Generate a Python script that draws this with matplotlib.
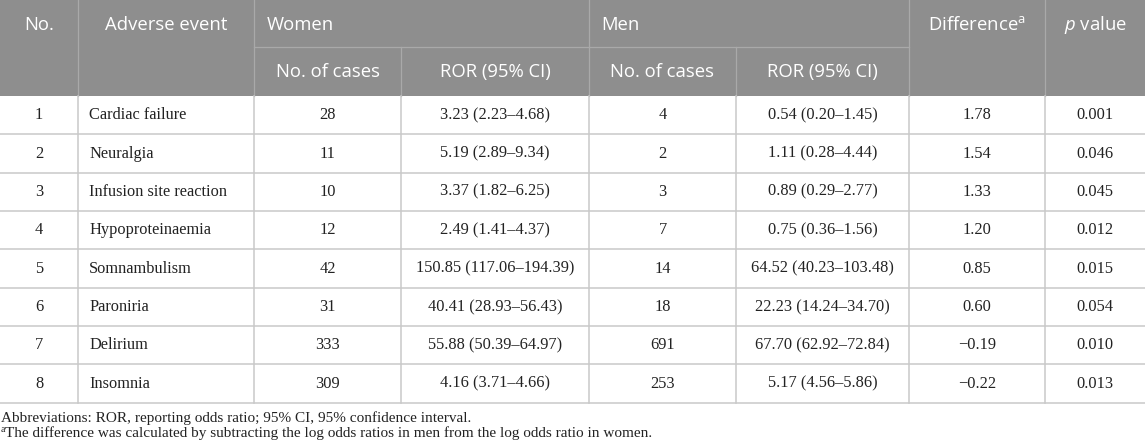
import matplotlib.pyplot as plt
from matplotlib.patches import Rectangle

plt.rcParams['mathtext.fontset'] = 'custom'
plt.rcParams['mathtext.rm'] = 'Open Sans'
plt.rcParams['mathtext.it'] = 'Open Sans:italic'

# Table data
numbers = ['1', '2', '3', '4', '5', '6', '7', '8']
events = ['Cardiac failure', 'Neuralgia', 'Infusion site reaction', 'Hypoproteinaemia',
          'Somnambulism', 'Paroniria', 'Delirium', 'Insomnia']
women_cases = ['28', '11', '10', '12', '42', '31', '333', '309']
women_ror = ['3.23 (2.23–4.68)', '5.19 (2.89–9.34)', '3.37 (1.82–6.25)', '2.49 (1.41–4.37)',
             '150.85 (117.06–194.39)', '40.41 (28.93–56.43)', '55.88 (50.39–64.97)',
             '4.16 (3.71–4.66)']
men_cases = ['4', '2', '3', '7', '14', '18', '691', '253']
men_ror = ['0.54 (0.20–1.45)', '1.11 (0.28–4.44)', '0.89 (0.29–2.77)', '0.75 (0.36–1.56)',
           '64.52 (40.23–103.48)', '22.23 (14.24–34.70)', '67.70 (62.92–72.84)',
           '5.17 (4.56–5.86)']
difference = ['1.78', '1.54', '1.33', '1.20', '0.85', '0.60', '−0.19', '−0.22']
p_values = ['0.001', '0.046', '0.045', '0.012', '0.015', '0.054', '0.010', '0.013']
footnotes = ['Abbreviations: ROR, reporting odds ratio; 95% CI, 95% confidence interval.',
             'The difference was calculated by subtracting the log odds ratios in men '
             'from the log odds ratio in women.']

# Layout (pixels)
W, H = 1145, 448
col_x = [0, 78, 254, 401, 589, 736, 909, 1045, 1145]
head_mid, head_bot = 47.5, 96
row_h = 38.35

header_bg = '#8e8e8e'
header_line = '#a9a9a9'
grid = '#c9c9c9'
body_color = '#222222'
head_font = 'Open Sans'
body_font = 'Liberation Serif'

fig = plt.figure(figsize=(W / 100, H / 100), dpi=100)
ax = fig.add_axes([0, 0, 1, 1])
ax.set_xlim(0, W)
ax.set_ylim(H, 0)
ax.axis('off')

# header background
ax.add_patch(Rectangle((0, 0), W, head_bot, color=header_bg, lw=0))
for x in col_x[1:-1]:
    if x in (401, 736):
        ax.plot([x, x], [head_mid, head_bot], color=header_line, lw=0.9)
    else:
        ax.plot([x, x], [0, head_bot], color=header_line, lw=0.9)
ax.plot([col_x[2], col_x[6]], [head_mid, head_mid], color=header_line, lw=0.9)

hs = 13.3
hkw = dict(color='white', fontsize=hs, family=head_font, va='center')
ax.text((col_x[0] + col_x[1]) / 2, 25, 'No.', ha='center', **hkw)
ax.text((col_x[1] + col_x[2]) / 2, 25, 'Adverse event', ha='center', **hkw)
ax.text(col_x[2] + 13, 25, 'Women', ha='left', **hkw)
ax.text(col_x[4] + 12, 25, 'Men', ha='left', **hkw)
ax.text((col_x[6] + col_x[7]) / 2, 25, r'Difference$^{\mathrm{a}}$', ha='center', **hkw)
ax.text((col_x[7] + col_x[8]) / 2, 25, r'$p$ value', ha='center', **hkw)
for i in range(2, 6):
    label = 'No. of cases' if i % 2 == 0 else 'ROR (95% CI)'
    ax.text((col_x[i] + col_x[i + 1]) / 2, 72, label, ha='center', **hkw)

# body rows
n = len(events)
bs = 11.8
bkw = dict(color=body_color, fontsize=bs, family=body_font, va='center')
columns = [numbers, events, women_cases, women_ror, men_cases, men_ror, difference, p_values]
for r in range(n):
    yc = head_bot + row_h * (r + 0.5)
    for c, col in enumerate(columns):
        if c == 1:
            ax.text(col_x[1] + 11, yc, col[r], ha='left', **bkw)
        else:
            ax.text((col_x[c] + col_x[c + 1]) / 2, yc, col[r], ha='center', **bkw)

table_bot = head_bot + row_h * n
for r in range(1, n + 1):
    y = head_bot + row_h * r
    ax.plot([0, W], [y, y], color=grid, lw=1.1)
for x in col_x[1:-1]:
    ax.plot([x, x], [head_bot, table_bot], color=grid, lw=1.1)

# footnotes
fs = 11.0
ax.text(1, 418, footnotes[0], ha='left', color=body_color, fontsize=fs,
        family=body_font, va='center')
ax.text(0.5, 429.5, 'a', ha='left', color=body_color, fontsize=7,
        family=body_font, va='center')
ax.text(5, 433.5, footnotes[1], ha='left', color=body_color, fontsize=fs,
        family=body_font, va='center')

fig.savefig('out.png', dpi=100)
